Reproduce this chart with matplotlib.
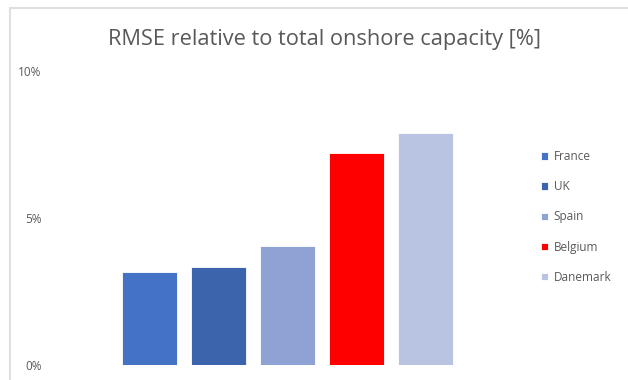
import matplotlib.pyplot as plt
from matplotlib.patches import Rectangle

countries = ["France", "UK", "Spain", "Belgium", "Danemark"]
rmse = [3.15, 3.33, 4.04, 7.2, 7.87]
colors = ["#4472c4", "#3c64ad", "#8fa2d4", "#ff0000", "#b9c3e2"]
yticks = [0, 5, 10]
ytick_labels = ["0%", "5%", "10%"]

plt.rcParams['font.family'] = ['Open Sans', 'DejaVu Sans']
grey = "#595959"

fig = plt.figure(figsize=(6.28, 3.8), dpi=100)

# light frame of the chart object, cut off at right and bottom
fig.patches.append(Rectangle((10/628, -0.1), 1.2, (380-8)/380 + 0.1,
                             transform=fig.transFigure, fill=False,
                             edgecolor="#e0e0e0", linewidth=1.5))

ax = fig.add_axes([45/628, (380-364.5)/380, 475/628, 294/380])
x = list(range(len(countries)))
bars = ax.bar(x, rmse, width=0.8, color=colors, edgecolor="white", linewidth=0.6)

ax.set_xlim((45-149.5)/69, (520-149.5)/69)
ax.set_ylim(0, 10)
ax.set_yticks(yticks)
ax.set_yticklabels(ytick_labels)
ax.set_xticks([])
ax.tick_params(axis='y', length=0, colors=grey, labelsize=8.5, pad=2.5)
for s in ax.spines.values():
    s.set_visible(False)

fig.text(324/628, 1 - 40/380, "RMSE relative to total onshore capacity [%]",
         ha="center", va="center", fontsize=15.7, color=grey)

ax.legend(bars, countries, loc="center left", bbox_to_anchor=(530/628, 0.429),
          bbox_transform=fig.transFigure, frameon=False, fontsize=8.5,
          labelcolor=grey, handlelength=0.6, handleheight=0.6,
          handletextpad=0.5, labelspacing=1.45)

fig.savefig("out.png", dpi=100)
